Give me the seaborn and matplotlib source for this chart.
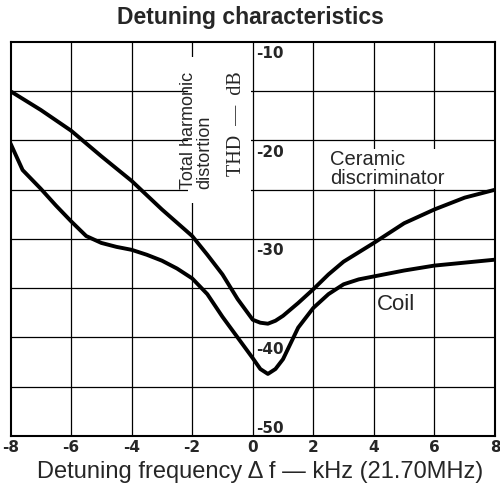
import matplotlib
matplotlib.use("Agg")
import matplotlib.pyplot as plt
import seaborn as sns
import pandas as pd
from matplotlib.patches import Rectangle

# === данные ===
ceramic_x = [-8, -7, -6, -5, -4, -3, -2, -1.5, -1, -0.5, 0, 0.25, 0.5, 0.75,
             1, 1.5, 2, 2.5, 3, 4, 5, 6, 7, 8]
ceramic_y = [-15.0, -16.9, -19.0, -21.6, -24.1, -27.0, -29.7, -31.6, -33.6, -36.1,
             -38.2, -38.5, -38.6, -38.3, -37.8, -36.5, -35.1, -33.6, -32.3, -30.4,
             -28.4, -27.0, -25.8, -25.0]

coil_x = [-8, -7.6, -7, -6.5, -6, -5.5, -5, -4.5, -4, -3.5, -3, -2.5, -2, -1.5,
          -1, -0.5, 0, 0.25, 0.5, 0.75, 1, 1.25, 1.5, 2, 2.5, 3, 3.5, 4, 5, 6, 7, 8]
coil_y = [-20.3, -23.0, -24.9, -26.6, -28.2, -29.7, -30.4, -30.8, -31.1, -31.6,
          -32.2, -33.0, -34.0, -35.6, -37.9, -40.0, -42.1, -43.2, -43.7, -43.2,
          -42.2, -40.6, -39.0, -37.0, -35.6, -34.6, -34.1, -33.8, -33.2, -32.7,
          -32.4, -32.1]

x_ticks = [-8, -6, -4, -2, 0, 2, 4, 6, 8]
y_ticks = [-10, -20, -30, -40, -50]

df = pd.concat([
    pd.DataFrame({"df": ceramic_x, "thd": ceramic_y, "curve": "Ceramic"}),
    pd.DataFrame({"df": coil_x, "thd": coil_y, "curve": "Coil"}),
])

sns.set_style("white")
plt.rcParams['font.family'] = ['Liberation Sans', 'DejaVu Sans']

fig = plt.figure(figsize=(5.0, 4.86), dpi=100)
ax = fig.add_axes([0.021, 0.1029, 0.969, 0.8107])

sns.lineplot(data=df, x="df", y="thd", hue="curve", units="curve", estimator=None,
             sort=False, palette=["black", "black"], linewidth=2.8, legend=False,
             ax=ax, zorder=5)

ax.set_xlim(-8, 8)
ax.set_ylim(-50, -10)

# сетка
for gx in x_ticks[1:-1]:
    ax.axvline(gx, color="black", lw=0.9, zorder=1)
for gy in range(-45, -10, 5):
    ax.axhline(gy, color="black", lw=0.9, zorder=1)
for s in ax.spines.values():
    s.set_color("black")
    s.set_linewidth(1.5)

# белая подложка под подписью оси
ax.add_patch(Rectangle((-2.15, -26.3), 2.1, 14.8, facecolor="white",
                       edgecolor="none", zorder=2))

ax.set_xticks(x_ticks)
ax.set_xticklabels([str(t) for t in x_ticks], fontweight="bold",
                   fontsize=11, family="DejaVu Sans")
ax.tick_params(axis="x", length=0, pad=3)
ax.set_yticks([])
ax.set_xlabel("")
ax.set_ylabel("")

# подписи оси Y внутри графика
for v in y_ticks:
    yy = v - 1.2 if v != -50 else -49.2
    ax.text(0.12, yy, str(v), ha="left", va="center", fontsize=11,
            fontweight="bold", family="DejaVu Sans", zorder=6)

ax.text(-1.85, -19.0, "Total harmonic\ndistortion", rotation=90, ha="center",
        va="center", fontsize=13, multialignment="left", linespacing=0.95, zorder=6)
ax.text(-0.55, -18.3, "THD  —  dB", rotation=90, ha="center", va="center",
        fontsize=14.5, family="Liberation Serif", zorder=6)
ax.text(2.55, -22.9, "Ceramic\ndiscriminator", ha="left", va="center",
        fontsize=14.5, linespacing=1.0, zorder=6,
        bbox=dict(facecolor="white", edgecolor="none", pad=0.5))
ax.text(4.1, -36.7, "Coil", ha="left", va="center", fontsize=16, zorder=6)

fig.text(0.5, 0.963, "Detuning characteristics", ha="center", va="center",
         fontsize=16.5, fontweight="bold")
fig.text(0.52, 0.029, "Detuning frequency Δ f — kHz (21.70MHz)", ha="center",
         va="center", fontsize=17)

fig.savefig("out.png", dpi=100)
